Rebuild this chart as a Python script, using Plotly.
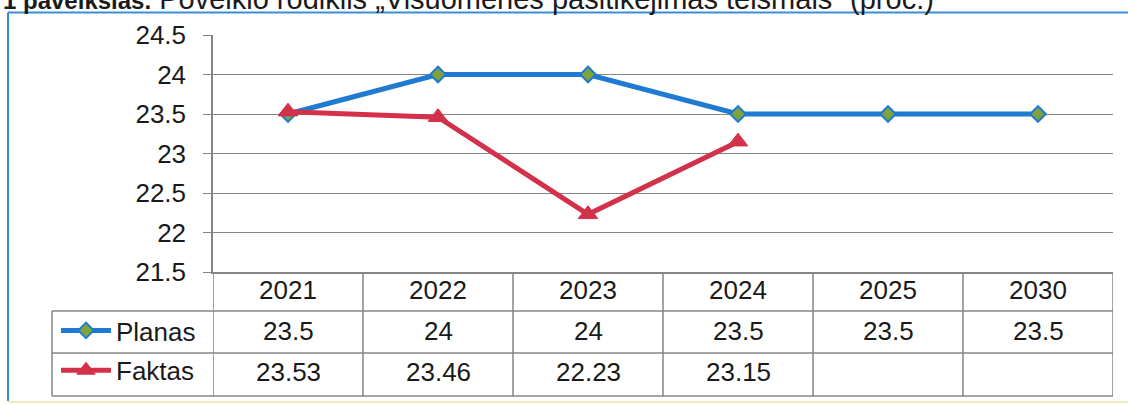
import plotly.graph_objects as go

# ---- data ----
years = ["2021", "2022", "2023", "2024", "2025", "2030"]
planas = [23.5, 24, 24, 23.5, 23.5, 23.5]
faktas = [23.53, 23.46, 22.23, 23.15, None, None]
planas_labels = ["23.5", "24", "24", "23.5", "23.5", "23.5"]
faktas_labels = ["23.53", "23.46", "22.23", "23.15", "", ""]
y_ticks = [21.5, 22, 22.5, 23, 23.5, 24, 24.5]
y_tick_labels = ["21.5", "22", "22.5", "23", "23.5", "24", "24.5"]
series_names = ["Planas", "Faktas"]
title_bold = "1 paveikslas."
title_rest = "Poveikio rodiklis „Visuomenės pasitikėjimas teismais“ (proc.)"

# ---- layout constants ----
W, H = 1128, 405
L, R, T, B = 213, 15, 35, 133
PW = W - L - R
PH = H - T - B
FONT = "Liberation Sans, Arial, sans-serif"
FS = 26
GRID = "#858585"
TXT = "#1a1a1a"
BLUE = "#1f7ad2"
RED = "#d3304a"
GREEN = "#7ea33a"


def px_x(X):
    return (X - L) / PW


def px_y(Y):
    return (H - B - Y) / PH


fig = go.Figure()
fig.add_trace(go.Scatter(
    x=years, y=planas, name=series_names[0], mode="lines+markers",
    line=dict(color=BLUE, width=5),
    marker=dict(symbol="diamond", size=12, color=GREEN, line=dict(color=BLUE, width=2)),
    legendgroup="a",
))
fig.add_trace(go.Scatter(
    x=years, y=faktas, name=series_names[1], mode="lines+markers",
    line=dict(color=RED, width=5),
    marker=dict(symbol="triangle-up", size=17, color=RED, line=dict(color=RED, width=1)),
    legendgroup="b",
))

shapes = []
ann = []

# table rows
row_lines = [311, 353, 396]
for Y in row_lines:
    shapes.append(dict(type="line", xref="paper", yref="paper",
                       x0=px_x(52), x1=1, y0=px_y(Y), y1=px_y(Y),
                       line=dict(color=GRID, width=1.5)))
shapes.append(dict(type="line", xref="paper", yref="paper",
                   x0=px_x(52), x1=px_x(52), y0=px_y(311), y1=px_y(396),
                   line=dict(color=GRID, width=1.5)))
for k in range(len(years) + 1):
    shapes.append(dict(type="line", xref="x", yref="paper",
                       x0=k - 0.5, x1=k - 0.5, y0=0, y1=px_y(396),
                       line=dict(color=GRID, width=1.5)))

# outer frame decoration
shapes.append(dict(type="line", xref="paper", yref="paper",
                   x0=px_x(8), x1=px_x(1140), y0=px_y(12.5), y1=px_y(12.5),
                   line=dict(color="#3a8fd8", width=2)))
shapes.append(dict(type="line", xref="paper", yref="paper",
                   x0=px_x(8), x1=px_x(8), y0=px_y(12.5), y1=px_y(401),
                   line=dict(color="#3a8fd8", width=2)))
shapes.append(dict(type="line", xref="paper", yref="paper",
                   x0=px_x(8), x1=px_x(1140), y0=px_y(402), y1=px_y(402),
                   line=dict(color="#f3e7bf", width=2)))

# table text (x given as category index)
for i, yr in enumerate(years):
    ann.append(dict(x=i, xref="x", y=px_y(290), yref="paper", yanchor="middle",
                    text=yr, showarrow=False,
                    font=dict(family=FONT, size=FS, color=TXT)))
    ann.append(dict(x=i, xref="x", y=px_y(331), yref="paper", yanchor="middle",
                    text=planas_labels[i], showarrow=False,
                    font=dict(family=FONT, size=FS, color=TXT)))
    if faktas_labels[i]:
        ann.append(dict(x=i, xref="x", y=px_y(372), yref="paper", yanchor="middle",
                        text=faktas_labels[i], showarrow=False,
                        font=dict(family=FONT, size=FS, color=TXT)))

# title (partly cut at top as in source)
ann.append(dict(x=px_x(1), xref="paper", xanchor="left", y=px_y(-1), yref="paper",
                yanchor="middle", showarrow=False,
                text="<b><span style='font-size:24px'>" + title_bold + "</span></b> " + title_rest,
                font=dict(family=FONT, size=29, color=TXT)))

fig.update_layout(
    width=W, height=H,
    margin=dict(l=L, r=R, t=T, b=B, pad=0, autoexpand=False),
    paper_bgcolor="white", plot_bgcolor="white",
    font=dict(family=FONT, size=FS, color=TXT),
    shapes=shapes, annotations=ann,
    showlegend=True,
    legend=dict(x=px_x(56), xanchor="left", y=px_y(307), yanchor="top",
                font=dict(family=FONT, size=FS, color=TXT),
                bgcolor="rgba(0,0,0,0)", itemwidth=50, tracegroupgap=3,
                traceorder="grouped"),
    xaxis=dict(type="category", range=[-0.5, len(years) - 0.5],
               showticklabels=False, showgrid=False, zeroline=False,
               showline=True, linecolor=GRID, linewidth=1.5, ticks=""),
    yaxis=dict(range=[21.5, 24.5], tickvals=y_ticks, ticktext=y_tick_labels,
               showgrid=True, gridcolor=GRID, gridwidth=1.3, zeroline=False,
               showline=True, linecolor=GRID, linewidth=1.5,
               ticks="outside", ticklen=8, tickcolor=GRID, tickwidth=1.3,
               ticklabelstandoff=12,
               tickfont=dict(family=FONT, size=FS, color=TXT)),
)

fig.write_html("out.html", config={"displayModeBar": False},
               post_script="document.body.style.margin='0';")
